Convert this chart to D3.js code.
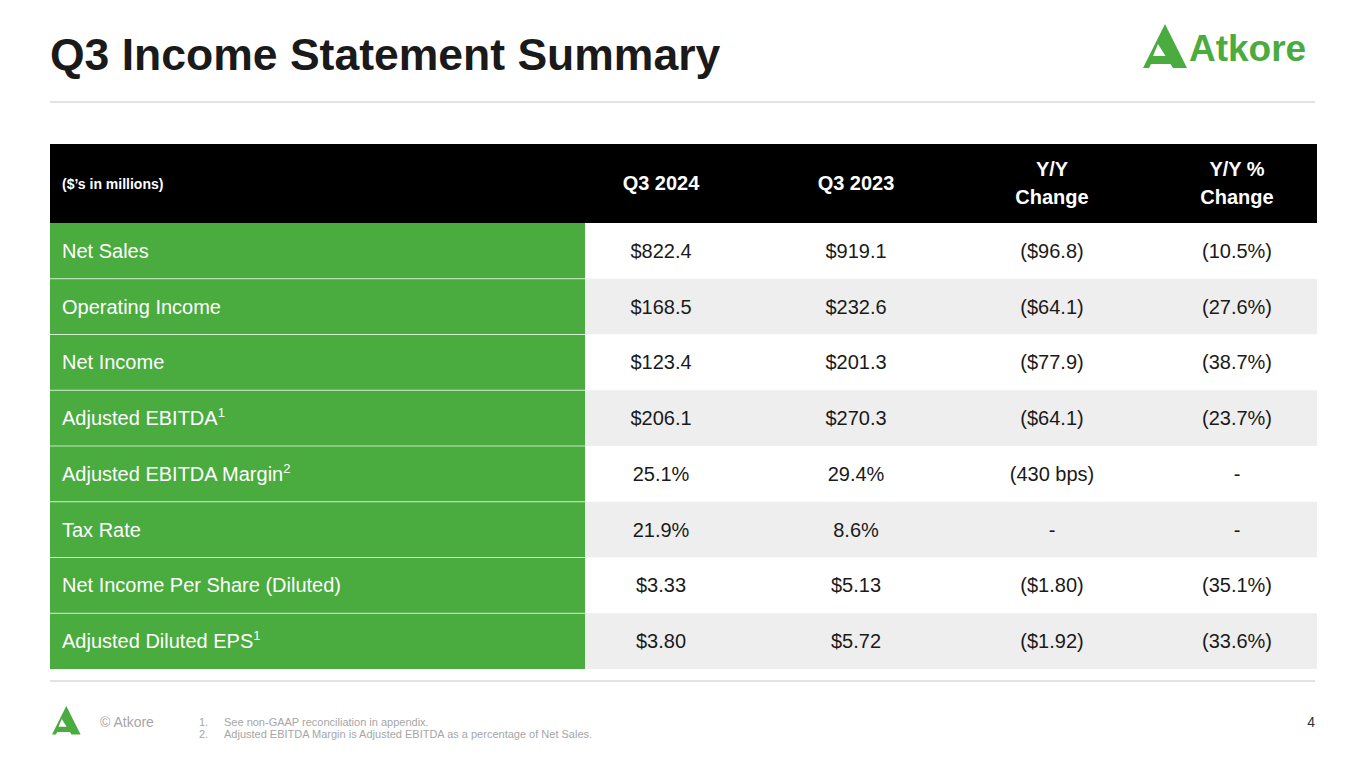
<!DOCTYPE html>
<html><head><meta charset="utf-8">
<script src="https://cdn.jsdelivr.net/npm/d3@7"></script>
<style>body{margin:0;background:#fff}svg{display:block;font-family:"Liberation Sans",Arial,sans-serif}</style>
</head><body><svg id="c" width="1365" height="768"></svg>
<script>
const headers = [["($’s in millions)"], ["Q3 2024"], ["Q3 2023"], ["Y/Y", "Change"], ["Y/Y %", "Change"]];
const metrics = ["Net Sales", "Operating Income", "Net Income", "Adjusted EBITDA", "Adjusted EBITDA Margin", "Tax Rate", "Net Income Per Share (Diluted)", "Adjusted Diluted EPS"];
const notes = ["", "", "", "1", "2", "", "", "1"];
const q3_2024 = ["$822.4", "$168.5", "$123.4", "$206.1", "25.1%", "21.9%", "$3.33", "$3.80"];
const q3_2023 = ["$919.1", "$232.6", "$201.3", "$270.3", "29.4%", "8.6%", "$5.13", "$5.72"];
const yyChange = ["($96.8)", "($64.1)", "($77.9)", "($64.1)", "(430 bps)", "-", "($1.80)", "($1.92)"];
const yyPct = ["(10.5%)", "(27.6%)", "(38.7%)", "(23.7%)", "-", "-", "(35.1%)", "(33.6%)"];
const footnotes = ["See non-GAAP reconciliation in appendix.", "Adjusted EBITDA Margin is Adjusted EBITDA as a percentage of Net Sales."];

const green = "#4aab3f";
const svg = d3.select("#c");

// title and logo
svg.append("text").attr("x", 50).attr("y", 70).attr("font-size", 44.5).attr("font-weight", "bold").attr("fill", "#1a1a1a").text("Q3 Income Statement Summary");
function logo(g, s) {
  g.append("path").attr("fill", green)
    .attr("d", `M0,${44*s} L${22*s},0 L${44*s},${44*s} L${30*s},${44*s} L${15*s},${20*s} L${10*s},${32*s} L${24*s},${32*s} L${28*s},${40*s} L${8*s},${40*s} L${6*s},${44*s} Z`);
}
logo(svg.append("g").attr("transform", "translate(1143,24)"), 1);
svg.append("text").attr("x", 1189).attr("y", 61).attr("font-size", 37).attr("font-weight", "bold").attr("fill", green).attr("letter-spacing", 0).text("Atkore");
svg.append("line").attr("x1", 50).attr("x2", 1315).attr("y1", 102).attr("y2", 102).attr("stroke", "#d9d9d9").attr("stroke-width", 1.5);

// table
const x0 = 50, x1 = 1317, split = 585;
const colX = [62, 661, 856, 1052, 1237];
const y = d3.scaleBand().domain(d3.range(metrics.length)).range([223, 669]);
svg.append("rect").attr("x", x0).attr("y", 144).attr("width", x1 - x0).attr("height", 79).attr("fill", "#000");
headers.forEach((h, i) => {
  const t = svg.append("text").attr("x", colX[i]).attr("fill", "#fff").attr("font-weight", "bold")
    .attr("font-size", i === 0 ? 14 : 20).attr("text-anchor", i === 0 ? "start" : "middle");
  const startY = h.length === 1 ? 190 : 176;
  h.forEach((line, k) => t.append("tspan").attr("x", colX[i]).attr("y", startY + k * 28 - (i === 0 ? 1 : 0)).text(line));
});

const rows = svg.selectAll("g.row").data(metrics).join("g").attr("class", "row")
  .attr("transform", (d, i) => `translate(0,${y(i)})`);
rows.append("rect").attr("x", split).attr("width", x1 - split).attr("height", y.bandwidth())
  .attr("fill", (d, i) => i % 2 ? "#eeeeee" : "#fff");
rows.append("rect").attr("x", x0).attr("width", split - x0).attr("height", y.bandwidth()).attr("fill", green);
rows.filter((d, i) => i > 0).append("line").attr("x1", x0).attr("x2", split).attr("stroke", "#fff").attr("stroke-opacity", 0.7);
const lab = rows.append("text").attr("x", colX[0]).attr("y", y.bandwidth() / 2 + 7).attr("fill", "#fff").attr("font-size", 20).text(d => d);
lab.append("tspan").attr("font-size", 13).attr("dy", -8).text((d, i) => notes[i]);
[q3_2024, q3_2023, yyChange, yyPct].forEach((arr, c) => {
  rows.append("text").attr("x", colX[c + 1]).attr("y", y.bandwidth() / 2 + 7).attr("text-anchor", "middle")
    .attr("font-size", 20).attr("fill", "#1a1a1a").text((d, i) => arr[i]);
});

svg.append("line").attr("x1", 50).attr("x2", 1315).attr("y1", 681).attr("y2", 681).attr("stroke", "#d9d9d9").attr("stroke-width", 1.5);

// footer
logo(svg.append("g").attr("transform", "translate(52,706)"), 0.65);
svg.append("text").attr("x", 100).attr("y", 727).attr("font-size", 14).attr("fill", "#a6a6a6").text("© Atkore");
footnotes.forEach((f, i) => {
  svg.append("text").attr("x", 199).attr("y", 726 + i * 12).attr("font-size", 11).attr("fill", "#a6a6a6").text((i + 1) + ".");
  svg.append("text").attr("x", 224).attr("y", 726 + i * 12).attr("font-size", 11).attr("fill", "#a6a6a6").text(f);
});
svg.append("text").attr("x", 1315).attr("y", 727).attr("text-anchor", "end").attr("font-size", 14).attr("fill", "#333").text("4");
</script></body></html>
